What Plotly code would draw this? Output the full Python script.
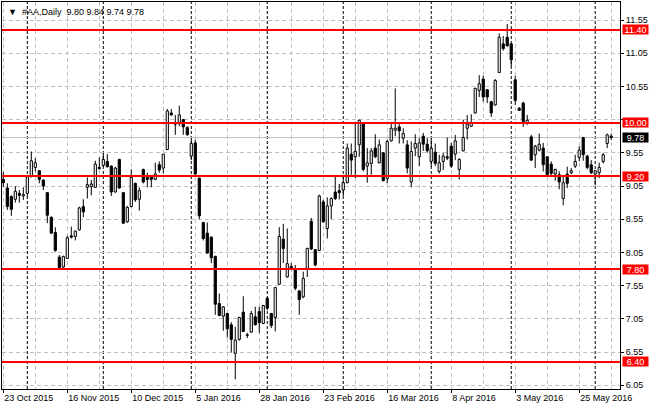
import plotly.graph_objects as go

symbol = "#AA"
timeframe = "Daily"

opens = [9.15, 9.02, 8.89, 8.85, 8.94, 8.90, 8.94, 9.19, 9.33, 9.28,
         9.14, 8.95, 8.58, 8.35, 7.98, 7.83, 7.96, 8.30, 8.29, 8.39,
         8.74, 9.03, 9.04, 9.03, 9.33, 9.36, 9.42, 9.35, 8.96, 9.45,
         8.95, 8.51, 8.74, 9.09, 8.85, 9.30, 9.18, 9.19, 9.15, 9.37,
         9.32, 9.60, 10.15, 9.99, 9.99, 10.05, 9.93, 9.50, 9.70, 9.17,
         8.50, 8.34, 8.28, 7.99, 7.28, 7.09, 7.13, 6.96, 6.53, 6.74,
         7.15, 6.80, 6.85, 7.08, 7.16, 6.98, 7.36, 7.13, 7.07, 7.57,
         8.25, 7.68, 7.84, 7.79, 7.47, 7.38, 7.81, 8.52, 8.09, 8.08,
         8.81, 8.41, 8.75, 8.96, 8.98, 8.99, 9.10, 9.53, 9.49, 9.67,
         9.99, 9.35, 9.39, 9.62, 9.40, 9.55, 9.16, 9.73, 9.89, 9.94,
         9.77, 9.67, 9.11, 9.62, 9.49, 9.80, 9.68, 9.42, 9.56, 9.27,
         9.42, 9.49, 9.65, 9.53, 9.30, 9.58, 9.92, 9.95, 10.15, 10.49,
         10.66, 10.50, 10.32, 10.27, 10.76, 11.19, 11.29, 11.19, 10.65, 10.22,
         10.30, 10.00, 9.79, 9.52, 9.59, 9.62, 9.49, 9.38, 9.23, 9.22,
         8.86, 9.23, 9.25, 9.35, 9.48, 9.78, 9.50, 9.37, 9.23, 9.25,
         9.42, 9.69, 9.80]
highs = [9.26, 9.09, 8.91, 9.05, 8.99, 9.03, 9.20, 9.57, 9.47, 9.29,
         9.15, 8.96, 8.59, 8.43, 8.01, 8.00, 8.30, 8.44, 8.38, 8.74,
         8.85, 9.18, 9.14, 9.43, 9.48, 9.55, 9.53, 9.36, 9.34, 9.46,
         8.96, 8.75, 9.30, 9.10, 9.03, 9.31, 9.25, 9.20, 9.40, 9.42,
         9.53, 10.21, 10.21, 10.12, 10.26, 10.06, 9.95, 9.77, 9.75, 9.17,
         8.51, 8.50, 8.29, 8.00, 7.43, 7.24, 7.14, 7.00, 6.93, 7.08,
         7.39, 6.84, 7.17, 7.23, 7.23, 7.26, 7.38, 7.14, 7.53, 8.43,
         8.48, 8.41, 7.89, 7.86, 7.48, 7.76, 8.12, 8.57, 8.10, 8.92,
         8.84, 8.88, 8.88, 9.19, 9.08, 9.19, 9.69, 9.69, 10.00, 10.05,
         10.00, 9.62, 9.62, 9.83, 9.75, 9.56, 9.75, 9.99, 10.52, 10.00,
         9.92, 9.74, 9.72, 9.83, 9.77, 9.85, 9.77, 9.77, 9.69, 9.52,
         9.55, 9.78, 9.70, 9.82, 9.47, 10.05, 10.12, 10.13, 10.53, 10.72,
         10.71, 10.51, 10.33, 10.66, 11.35, 11.31, 11.49, 11.20, 10.71, 10.24,
         10.32, 10.12, 9.82, 9.67, 9.84, 9.70, 9.50, 9.42, 9.31, 9.27,
         9.19, 9.34, 9.32, 9.52, 9.65, 9.79, 9.52, 9.44, 9.29, 9.40,
         9.55, 9.84, 9.84]
lows = [9.04, 8.69, 8.60, 8.80, 8.80, 8.84, 8.89, 9.18, 9.27, 9.09,
        8.99, 8.49, 8.33, 8.06, 7.81, 7.81, 7.95, 8.26, 8.23, 8.38,
        8.58, 8.86, 8.91, 9.03, 9.30, 9.34, 9.33, 8.90, 8.95, 9.01,
        8.48, 8.50, 8.73, 8.81, 8.68, 9.09, 9.03, 9.03, 9.14, 9.25,
        9.24, 9.59, 10.11, 9.82, 9.95, 9.82, 9.81, 9.44, 9.22, 8.55,
        8.23, 8.03, 7.89, 7.11, 7.09, 6.87, 6.77, 6.54, 6.14, 6.72,
        6.85, 6.76, 6.84, 6.95, 6.84, 6.97, 7.18, 6.91, 6.86, 7.56,
        7.89, 7.67, 7.80, 7.48, 7.11, 7.36, 7.68, 8.09, 7.84, 8.07,
        8.50, 8.26, 8.55, 8.84, 8.85, 8.90, 9.09, 9.22, 9.17, 9.49,
        9.27, 9.10, 9.22, 9.47, 9.39, 9.12, 9.09, 9.72, 9.80, 9.69,
        9.69, 9.24, 9.03, 9.50, 9.35, 9.58, 9.55, 9.34, 9.35, 9.24,
        9.29, 9.44, 9.32, 9.44, 9.15, 9.57, 9.75, 9.94, 10.14, 10.39,
        10.32, 10.30, 10.09, 10.26, 10.75, 11.09, 11.15, 10.85, 10.27, 10.18,
        9.94, 9.97, 9.43, 9.32, 9.57, 9.27, 9.21, 9.21, 9.13, 9.00,
        8.76, 9.02, 9.23, 9.32, 9.42, 9.43, 9.30, 9.23, 9.06, 9.17,
        9.39, 9.62, 9.74]
closes = [9.10, 8.74, 8.70, 8.97, 8.91, 8.92, 9.19, 9.43, 9.40, 9.15,
          9.05, 8.61, 8.34, 8.08, 7.82, 7.99, 8.27, 8.28, 8.37, 8.72,
          8.66, 9.07, 9.08, 9.38, 9.31, 9.45, 9.34, 8.96, 9.32, 9.02,
          8.49, 8.73, 9.18, 8.84, 8.98, 9.11, 9.15, 9.15, 9.23, 9.29,
          9.53, 10.18, 10.12, 9.98, 10.12, 9.94, 9.82, 9.69, 9.23, 8.60,
          8.26, 8.04, 7.97, 7.27, 7.10, 7.23, 6.90, 6.74, 6.73, 7.07,
          6.86, 6.81, 7.13, 6.96, 6.99, 7.25, 7.21, 6.95, 7.52, 8.29,
          8.11, 7.88, 7.81, 7.51, 7.34, 7.66, 8.11, 8.10, 7.86, 8.90,
          8.51, 8.75, 8.86, 8.86, 8.95, 9.10, 9.62, 9.44, 9.57, 10.04,
          9.30, 9.40, 9.58, 9.49, 9.67, 9.13, 9.72, 9.92, 9.92, 9.88,
          9.84, 9.32, 9.57, 9.69, 9.70, 9.68, 9.58, 9.62, 9.39, 9.40,
          9.50, 9.47, 9.35, 9.73, 9.45, 9.78, 9.98, 10.00, 10.52, 10.59,
          10.39, 10.39, 10.15, 10.64, 11.29, 11.12, 11.16, 10.95, 10.34, 10.19,
          10.02, 10.04, 9.44, 9.65, 9.68, 9.37, 9.22, 9.24, 9.30, 9.11,
          9.10, 9.09, 9.28, 9.42, 9.59, 9.52, 9.33, 9.25, 9.28, 9.33,
          9.52, 9.82, 9.78]
assert len(opens) == len(highs) == len(lows) == len(closes)

# bar numbers at which the date labels sit, and their texts
date_label_bars = [0, 16, 32, 48, 64, 80, 96, 112, 128, 144]
date_labels = ["23 Oct 2015", "16 Nov 2015", "10 Dec 2015", "5 Jan 2016", "28 Jan 2016",
               "23 Feb 2016", "16 Mar 2016", "8 Apr 2016", "3 May 2016", "25 May 2016"]
# first bar of each month (period separators)
month_start_bars = [6, 25, 47, 66, 85, 107, 127, 148]
# horizontal levels
levels = [11.40, 10.00, 9.20, 7.80, 6.40]
price_ticks = [6.05, 6.55, 7.05, 7.55, 8.05, 8.55, 9.05, 9.55, 10.05, 10.55, 11.05, 11.55]
# price tick labels hidden behind a level box in the reference
hidden_price_ticks = [10.05]

n = len(opens)
xs = list(range(n))
FONT = "Liberation Sans, Arial, DejaVu Sans, sans-serif"

# wicks: split into upper and lower parts so hollow bodies stay empty
wx, wy = [], []
for i in xs:
    top = max(opens[i], closes[i])
    bot = min(opens[i], closes[i])
    wx += [i, i, None, i, i, None]
    wy += [highs[i], top, None, bot, lows[i], None]

body_base = [min(o, c) for o, c in zip(opens, closes)]
body_h = [max(abs(c - o), 0.006) for o, c in zip(opens, closes)]
body_col = ["white" if c >= o else "black" for o, c in zip(opens, closes)]

fig = go.Figure()
fig.add_trace(go.Scatter(x=wx, y=wy, mode="lines", line=dict(color="black", width=1),
                         hoverinfo="skip", showlegend=False))
fig.add_trace(go.Bar(x=xs, y=body_h, base=body_base, width=0.55,
                     marker=dict(color=body_col, line=dict(color="black", width=1)),
                     hoverinfo="skip", showlegend=False))

grid_col = "#C0C0C0"
shapes = []
for b in month_start_bars:
    shapes.append(dict(type="line", xref="x", yref="paper", x0=b, x1=b, y0=0, y1=1,
                       line=dict(color="black", width=1, dash="3px,2px"), layer="below"))
bid = closes[-1]
shapes.append(dict(type="line", xref="paper", yref="y", x0=0, x1=1, y0=bid, y1=bid,
                   line=dict(color=grid_col, width=1), layer="below"))
for lv in levels:
    shapes.append(dict(type="line", xref="paper", yref="y", x0=0, x1=1, y0=lv, y1=lv,
                       line=dict(color="#FF0000", width=2), layer="above"))

annotations = []
for lv in levels:
    annotations.append(dict(xref="paper", yref="y", x=1, y=lv, xanchor="left", yanchor="middle",
                            text=f"{lv:.2f}", showarrow=False, xshift=2, width=25, height=9,
                            bgcolor="#FF0000", borderpad=0,
                            font=dict(family=FONT, size=9, color="white")))
annotations.append(dict(xref="paper", yref="y", x=1, y=bid, xanchor="left", yanchor="middle",
                        text=f"{bid:.2f}", showarrow=False, xshift=2, width=25, height=9,
                        bgcolor="black", borderpad=0,
                        font=dict(family=FONT, size=9, color="white")))
header = ("\u25BC\u00a0\u00a0" + symbol + "," + timeframe + "\u00a0\u00a0"
          + " ".join(f"{v:.2f}" for v in (opens[-1], highs[-1], lows[-1], closes[-1])))
annotations.append(dict(xref="paper", yref="paper", x=0, y=1, xanchor="left", yanchor="top",
                        xshift=4, yshift=-3, text=header, showarrow=False,
                        font=dict(family=FONT, size=9, color="black")))

fig.update_layout(
    width=660, height=410,
    margin=dict(l=2, r=40, t=2, b=21),
    paper_bgcolor="white", plot_bgcolor="white",
    barmode="overlay", showlegend=False,
    shapes=shapes, annotations=annotations,
    font=dict(family=FONT, size=9, color="black"),
    xaxis=dict(range=[-0.33, 154.2], tickmode="array", tickvals=date_label_bars,
               ticktext=date_labels, ticks="outside", ticklen=3, tickcolor="black",
               ticklabelposition="outside right",
               showline=True, linecolor="black", linewidth=1, mirror=True,
               showgrid=True, gridcolor=grid_col, griddash="4px,3px", gridwidth=1,
               minor=dict(tickmode="array", tickvals=[b + 8 for b in date_label_bars],
                          showgrid=True, gridcolor=grid_col, griddash="4px,3px", ticklen=0),
               zeroline=False, fixedrange=True, automargin=False),
    yaxis=dict(range=[5.993, 11.821], side="right", tickmode="array", tickvals=price_ticks,
               ticktext=["" if t in hidden_price_ticks else f"{t:.2f}" for t in price_ticks],
               ticks="outside", ticklen=3,
               tickcolor="black", showline=True, linecolor="black", linewidth=1, mirror=True,
               showgrid=True, gridcolor=grid_col, griddash="4px,3px", gridwidth=1,
               zeroline=False, fixedrange=True, automargin=False),
)

fig.write_html("out.html", config={"displayModeBar": False},
               post_script="document.body.style.margin='0';document.body.style.overflow='hidden';")
